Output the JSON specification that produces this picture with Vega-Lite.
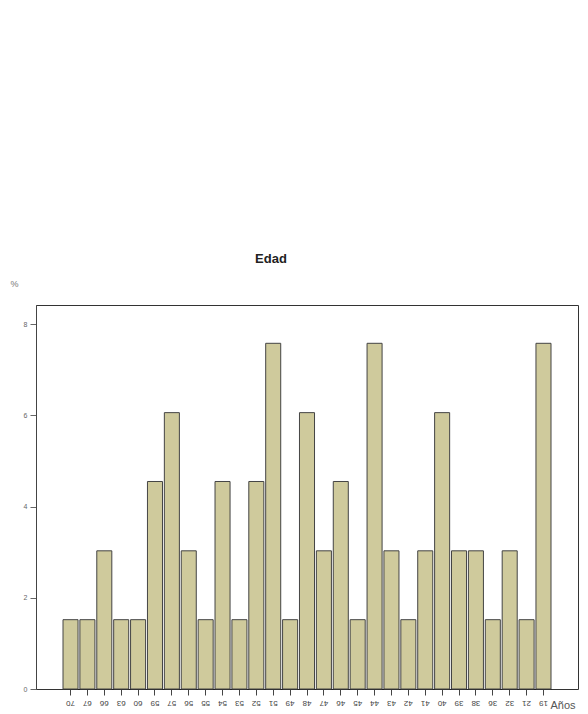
{
  "$schema": "https://vega.github.io/schema/vega-lite/v6.json",
  "autosize": "none",
  "width": 542,
  "height": 384,
  "padding": {"left": 36, "top": 305, "right": 10, "bottom": 25},
  "background": "white",
  "title": {"text": "Edad", "fontSize": 13, "font": "Liberation Sans", "fontWeight": "bold", "color": "#222222", "anchor": "middle", "dx": -36, "offset": 13},
  "config": {"view": {"stroke": "#333333", "strokeWidth": 1}},
  "data": {"values": [
    {"edad": "70", "pct": 1.52}, {"edad": "67", "pct": 1.52}, {"edad": "66", "pct": 3.03},
    {"edad": "63", "pct": 1.52}, {"edad": "60", "pct": 1.52}, {"edad": "59", "pct": 4.55},
    {"edad": "57", "pct": 6.06}, {"edad": "56", "pct": 3.03}, {"edad": "55", "pct": 1.52},
    {"edad": "54", "pct": 4.55}, {"edad": "53", "pct": 1.52}, {"edad": "52", "pct": 4.55},
    {"edad": "51", "pct": 7.58}, {"edad": "49", "pct": 1.52}, {"edad": "48", "pct": 6.06},
    {"edad": "47", "pct": 3.03}, {"edad": "46", "pct": 4.55}, {"edad": "45", "pct": 1.52},
    {"edad": "44", "pct": 7.58}, {"edad": "43", "pct": 3.03}, {"edad": "42", "pct": 1.52},
    {"edad": "41", "pct": 3.03}, {"edad": "40", "pct": 6.06}, {"edad": "39", "pct": 3.03},
    {"edad": "38", "pct": 3.03}, {"edad": "36", "pct": 1.52}, {"edad": "32", "pct": 3.03},
    {"edad": "21", "pct": 1.52}, {"edad": "19", "pct": 7.58}
  ]},
  "mark": {"type": "bar", "fill": "#cfca9c", "stroke": "#444444", "strokeWidth": 1},
  "encoding": {
    "x": {
      "field": "edad", "type": "ordinal", "sort": null,
      "scale": {"paddingInner": 0.11, "paddingOuter": 0, "range": [27, 515]},
      "axis": {
        "title": "Años", "titleFont": "Liberation Sans", "titleFontSize": 11, "titleFontWeight": "normal", "titleColor": "#555555",
        "titleAnchor": null, "titleAlign": "left", "titleBaseline": "middle", "titleX": 514, "titleY": 16, "titleAngle": 0,
        "labelAngle": 180, "labelAlign": "center", "labelBaseline": "bottom", "labelFontSize": 8, "labelColor": "#444444", "labelFont": "Liberation Sans", "labelPadding": 3,
        "domainColor": "#222222", "tickColor": "#444444", "tickSize": 6, "labelOverlap": false
      }
    },
    "y": {
      "field": "pct", "type": "quantitative",
      "scale": {"domain": [0, 8.42], "nice": false},
      "axis": {
        "values": [0, 2, 4, 6, 8], "grid": false,
        "title": "%", "titleAngle": 0, "titleX": -26, "titleY": -22, "titleAlign": "left", "titleBaseline": "middle",
        "titleFont": "Liberation Sans", "titleFontSize": 9, "titleFontWeight": "normal", "titleColor": "#777777",
        "labelFontSize": 7, "labelColor": "#666666", "labelFont": "Liberation Sans", "labelPadding": 3,
        "domainColor": "#444444", "tickColor": "#666666", "tickSize": 6
      }
    }
  }
}
